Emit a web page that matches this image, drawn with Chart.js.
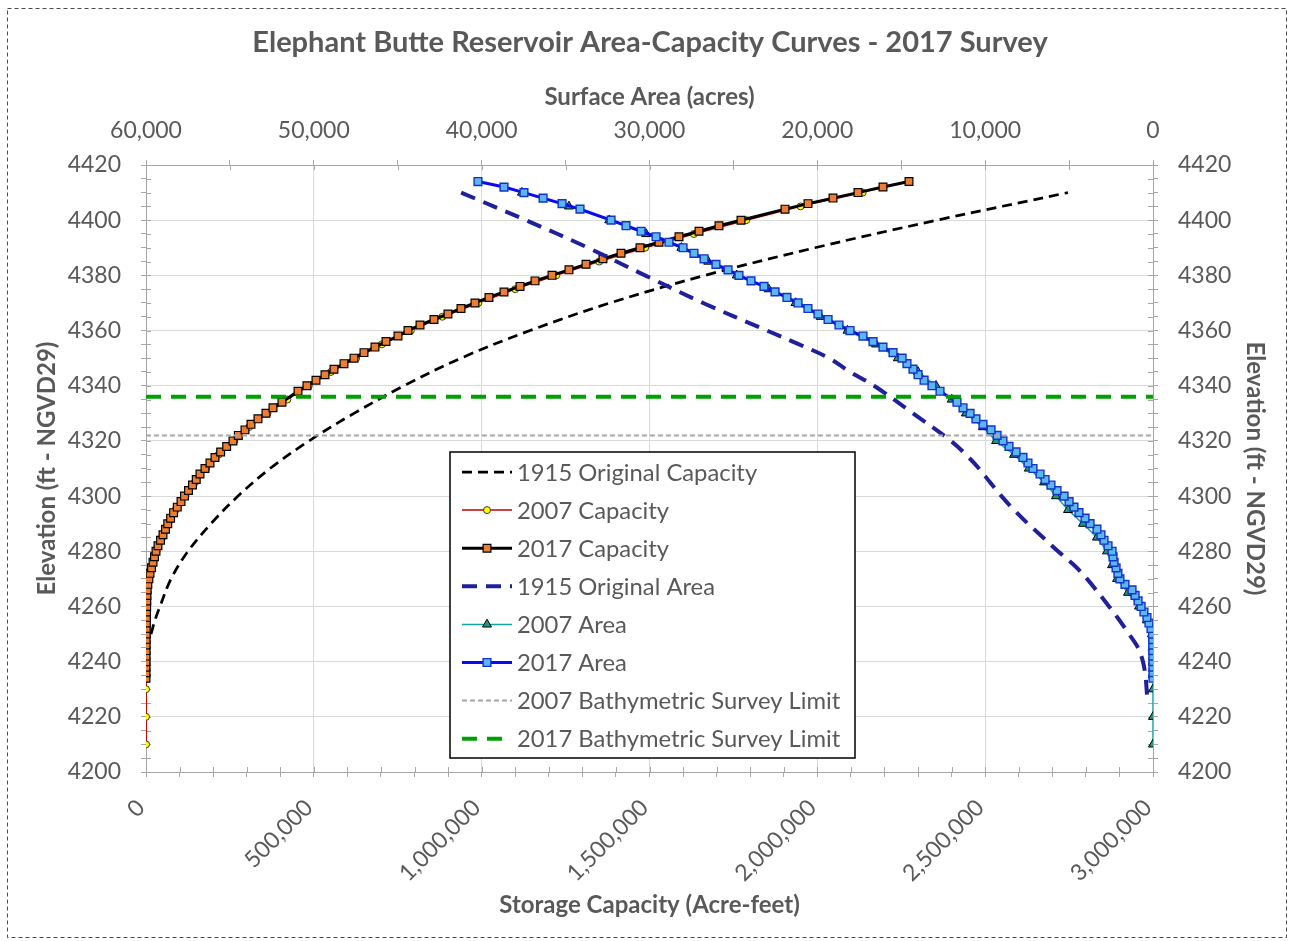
<!DOCTYPE html>
<html>
<head>
<meta charset="utf-8">
<title>Elephant Butte Reservoir Area-Capacity Curves - 2017 Survey</title>
<script src="https://cdn.jsdelivr.net/npm/chart.js@4.4.1/dist/chart.umd.min.js"></script>
<style>
  html, body { margin: 0; padding: 0; background: #ffffff; }
  #wrap { position: absolute; left: 0; top: 0; width: 1291px; height: 941px; }
</style>
</head>
<body>
<div id="wrap"><canvas id="chart" width="1291" height="941"></canvas></div>
<script>
// ---- 2017 survey table (elevation ft NGVD29, capacity acre-feet, area acres) ----
const elev2017 = [4234,4236,4238,4240,4242,4244,4246,4248,4250,4252,4254,4256,4258,4260,4262,4264,4266,4268,4270,4272,
  4274,4276,4278,4280,4282,4284,4286,4288,4290,4292,4294,4296,4298,4300,4302,4304,4306,4308,4310,4312,
  4314,4316,4318,4320,4322,4324,4326,4328,4330,4332,4334,
  4338,4340,4342,4344,4346,4348,4350,4352,4354,4356,4358,4360,4362,4364,4366,4368,4370,4372,4374,4376,
  4378,4380,4382,4384,4386,4388,4390,4392,4394,4396,4398,4400,
  4404,4406,4408,4410,4412,4414];
const capacity2017 = [0,20,60,120,200,300,420,560,720,900,1100,1330,1600,1900,2300,2800,3600,5500,8600,11900,
  16400,20900,25300,29800,35700,43200,50600,58100,64800,73300,82200,93200,104300,114700,126600,138500,149700,160800,175700,190600,
  205500,222400,240300,259100,275000,294900,312700,333600,357400,378300,405100,
  452800,479600,506400,533200,560000,589800,619600,649400,682200,715000,750700,780500,816300,857900,899600,938400,980100,1021800,1066500,1114200,
  1158900,1209500,1260100,1310800,1361400,1415100,1471700,1528300,1587900,1647500,1707000,1772600,
  1903700,1972200,2046700,2121100,2195600,2273100];
const area2017 = [0,2,3,5,8,10,15,20,30,120,240,360,540,710,890,1070,1250,1670,1970,2090,
  2200,2320,2380,2440,2680,2920,3100,3340,3750,4050,4410,4710,5000,5300,5720,6080,6430,6730,7150,7450,
  7750,8160,8580,8940,9290,9650,10130,10550,10900,11320,11680,
  12690,13170,13640,14000,14300,14660,14950,15490,16090,16680,17280,18050,18710,19360,19960,20560,21150,21810,22520,23180,
  23950,24670,25320,26040,26750,27350,28000,28840,29610,30500,31400,32290,
  34140,35210,36340,37480,38670,40220];

// ---- 2007 survey table ----
const elev2007 = [4210,4220,4230,4235,4240,4245,4250,4255,4260,4265,4270,4275,4280,4285,4290,4295,4300,4305,4310,4315,
  4320,4325,4330,4335,4340,4345,4350,4355,4360,4365,4370,4375,4380,4385,4390,4395,4400,4405,4410];
const capacity2007 = [0,0,0,10,130,380,760,1250,2100,3600,9000,19500,31000,48000,66000,88000,117500,146000,179000,216000,
  263000,307000,362000,421000,485000,551000,626000,703000,789000,883000,990000,1100000,1222000,1350000,1487000,1632000,1788000,1950000,2135000];
const area2007 = [0,0,0,5,10,20,60,360,830,1490,2140,2440,2740,3340,4170,5060,5780,6490,7400,8280,
  9350,10130,11150,11990,12930,14000,15200,16500,18200,19800,21300,22900,24800,26500,28100,30200,32400,34800,37600];

// ---- 1915 original curves ----
const elev1915Capacity = [4250,4255,4260,4270,4280,4290,4300,4310,4320,4330,4340,4350,4360,4370,4380,4390,4400,4410];
const capacity1915 = [14900,26800,41700,74500,125100,193600,274100,369400,485600,619600,768600,938400,1143900,1382300,1665300,1992900,2356400,2746600];
const elev1915Area = [4228,4230,4235,4240,4245,4250,4255,4260,4270,4275,4280,4285,4290,4295,4300,4305,4310,4315,4320,4330,
  4340,4345,4350,4355,4360,4370,4380,4390,4400,4410];
const area1915 = [360,380,450,600,890,1430,2000,2620,3930,4710,5660,6550,7450,8280,9030,9710,10370,11140,12040,14300,
  16620,18050,19300,21090,23000,26810,30270,33660,37360,41230];

// ---- bathymetric survey limits (ft) ----
const surveyLimit2007 = 4322;
const surveyLimit2017 = 4336;

// ---- axis ranges and tick spacing ----
const capacityRange = [0, 3000000];
const areaRange = [0, 60000];
const elevationRange = [4200, 4420];
const capacityMajor = 500000, capacityMinor = 100000;
const areaMajor = 10000, areaMinor = 5000;
const elevationMajor = 20, elevationMinor = 5;

const FONT = 'Lato, "Open Sans", "Liberation Sans", sans-serif';
const TEXT = '#595959';
const GRID = '#d9d9d9';
const AXIS = '#a6a6a6';

const toPoints = (xs, ys) => xs.map((x, i) => ({ x: x, y: ys[i] }));
const fmt = v => Number(v).toLocaleString('en-US');
const clear = 'rgba(0,0,0,0)';

const datasets = [
  { label: '1915 Original Capacity', data: toPoints(capacity1915, elev1915Capacity), xAxisID: 'x',
    borderColor: '#000000', borderWidth: 2.75, borderDash: [10, 6], pointRadius: 0, tension: 0.35 },
  { label: '2007 Capacity', data: toPoints(capacity2007, elev2007), xAxisID: 'x',
    borderColor: '#c00000', borderWidth: 1.5, pointStyle: 'circle', pointRadius: 3.5,
    pointBackgroundColor: '#ffff00', pointBorderColor: '#3a3a3a', pointBorderWidth: 1, tension: 0 },
  { label: '2017 Capacity', data: toPoints(capacity2017, elev2017), xAxisID: 'x',
    borderColor: '#000000', borderWidth: 3, pointStyle: 'rect', pointRadius: 5.5,
    pointBackgroundColor: '#ed7d31', pointBorderColor: '#000000', pointBorderWidth: 1.2, tension: 0 },
  { label: '1915 Original Area', data: toPoints(area1915, elev1915Area), xAxisID: 'x2',
    borderColor: '#20209c', borderWidth: 4, borderDash: [15, 9], pointRadius: 0, tension: 0.35 },
  { label: '2007 Area', data: toPoints(area2007, elev2007), xAxisID: 'x2',
    borderColor: '#16a2a2', borderWidth: 1.5, pointStyle: 'triangle', pointRadius: 5.2,
    pointBackgroundColor: '#1c9a80', pointBorderColor: '#000000', pointBorderWidth: 1, tension: 0 },
  { label: '2017 Area', data: toPoints(area2017, elev2017), xAxisID: 'x2',
    borderColor: '#0a0af0', borderWidth: 3, pointStyle: 'rect', pointRadius: 5.5,
    pointBackgroundColor: '#5cb6f2', pointBorderColor: '#1233c8', pointBorderWidth: 1.4, tension: 0 },
  { label: '2007 Bathymetric Survey Limit', data: toPoints(capacityRange, [surveyLimit2007, surveyLimit2007]), xAxisID: 'x',
    borderColor: '#a6a6a6', borderWidth: 2, borderDash: [5, 3], pointRadius: 0 },
  { label: '2017 Bathymetric Survey Limit', data: toPoints(capacityRange, [surveyLimit2017, surveyLimit2017]), xAxisID: 'x',
    borderColor: '#00a000', borderWidth: 4, borderDash: [15, 10], pointRadius: 0 }
];
// later series sit on top of earlier ones
datasets.forEach((d, i) => { d.order = datasets.length - i; d.showLine = true; d.yAxisID = 'y'; d.fill = false; });

// dashed outline around the whole figure, and the main heading
const frame = {
  id: 'frame',
  beforeDraw(chart) {
    const ctx = chart.ctx;
    ctx.save();
    ctx.fillStyle = '#ffffff';
    ctx.fillRect(0, 0, chart.width, chart.height);
    ctx.strokeStyle = '#4a4a4a';
    ctx.lineWidth = 1;
    ctx.setLineDash([4, 3]);
    ctx.strokeRect(7.5, 8.5, 1279, 929);
    ctx.restore();
  },
  afterDraw(chart) {
    const ctx = chart.ctx;
    ctx.save();
    ctx.fillStyle = TEXT;
    ctx.font = 'bold 29px ' + FONT;
    ctx.textAlign = 'center';
    ctx.textBaseline = 'middle';
    ctx.fillText('Elephant Butte Reservoir Area-Capacity Curves - 2017 Survey', 650, 43);
    ctx.restore();
  }
};

// tick marks that cross the axis lines (inner half)
const innerTicks = {
  id: 'innerTicks',
  beforeDatasetsDraw(chart) {
    const ctx = chart.ctx, a = chart.chartArea, L = 5;
    ctx.save();
    ctx.strokeStyle = AXIS;
    ctx.lineWidth = 1;
    ctx.beginPath();
    ['x', 'x2', 'y', 'y2'].forEach(id => {
      const s = chart.scales[id];
      s.ticks.forEach((t, i) => {
        const p = Math.round(s.getPixelForTick(i)) + 0.5;
        if (id === 'x') { ctx.moveTo(p, a.bottom); ctx.lineTo(p, a.bottom - L); }
        if (id === 'x2') { ctx.moveTo(p, a.top); ctx.lineTo(p, a.top + L); }
        if (id === 'y') { ctx.moveTo(a.left, p); ctx.lineTo(a.left + L, p); }
        if (id === 'y2') { ctx.moveTo(a.right, p); ctx.lineTo(a.right - L, p); }
      });
    });
    ctx.stroke();
    ctx.restore();
  }
};

// boxed legend inside the plot
const boxLegend = {
  id: 'boxLegend',
  afterDatasetsDraw(chart) {
    const ctx = chart.ctx;
    const x0 = 450, y0 = 452, w = 405, h = 306, rowH = 38.1;
    ctx.save();
    ctx.fillStyle = '#ffffff';
    ctx.fillRect(x0, y0, w, h);
    ctx.strokeStyle = '#000000';
    ctx.lineWidth = 1.5;
    ctx.setLineDash([]);
    ctx.strokeRect(x0, y0, w, h);
    chart.data.datasets.forEach((d, i) => {
      const yy = y0 + 20 + i * rowH;
      ctx.save();
      ctx.strokeStyle = d.borderColor;
      ctx.lineWidth = d.borderWidth;
      ctx.setLineDash(d.borderDash || []);
      ctx.beginPath();
      ctx.moveTo(x0 + 12, yy);
      ctx.lineTo(x0 + 62, yy);
      ctx.stroke();
      ctx.setLineDash([]);
      if (d.pointRadius > 0) {
        ctx.fillStyle = d.pointBackgroundColor;
        ctx.strokeStyle = d.pointBorderColor;
        ctx.lineWidth = d.pointBorderWidth;
        Chart.helpers.drawPoint(ctx, { pointStyle: d.pointStyle, radius: d.pointRadius,
          borderWidth: d.pointBorderWidth, rotation: 0 }, x0 + 37, yy);
      }
      ctx.restore();
      ctx.fillStyle = TEXT;
      ctx.font = '23.8px ' + FONT;
      ctx.textAlign = 'left';
      ctx.textBaseline = 'middle';
      ctx.fillText(d.label, x0 + 67, yy + 1);
    });
    ctx.restore();
  }
};

const tickFont = { family: FONT, size: 23 };
const titleFont = { family: FONT, size: 24, weight: 'bold' };
const onMajor = (v, step) => Math.abs(v / step - Math.round(v / step)) < 1e-9;

function draw() {
  new Chart(document.getElementById('chart'), {
    type: 'scatter',
    data: { datasets: datasets },
    plugins: [frame, innerTicks, boxLegend],
    options: {
      responsive: false,
      animation: false,
      events: [],
      layout: { padding: 0 },
      plugins: { legend: { display: false }, tooltip: { enabled: false }, title: { display: false } },
      scales: {
        x: {
          type: 'linear', position: 'bottom', min: capacityRange[0], max: capacityRange[1],
          ticks: { stepSize: capacityMinor, autoSkip: false, minRotation: 45, maxRotation: 45,
            labelOffset: -5, padding: 17, color: TEXT, font: tickFont,
            callback: v => onMajor(v, capacityMajor) ? fmt(v) : '' },
          grid: { color: c => (c.tick && onMajor(c.tick.value, capacityMajor)) ? GRID : clear,
            tickColor: AXIS, tickLength: 5, lineWidth: 1 },
          border: { display: true, color: AXIS, width: 1 },
          title: { display: true, text: 'Storage Capacity (Acre-feet)', color: TEXT, font: titleFont,
            padding: { top: 0, bottom: 21 } },
          afterFit: s => { s.height = 169; }
        },
        x2: {
          type: 'linear', position: 'top', reverse: true, min: areaRange[0], max: areaRange[1],
          ticks: { stepSize: areaMinor, autoSkip: false, minRotation: 0, maxRotation: 0,
            padding: 16, color: TEXT, font: tickFont,
            callback: v => onMajor(v, areaMajor) ? fmt(v) : '' },
          grid: { drawOnChartArea: false, tickColor: AXIS, tickLength: 5 },
          border: { display: true, color: AXIS, width: 1 },
          title: { display: true, text: 'Surface Area (acres)', color: TEXT, font: titleFont,
            padding: { top: 83, bottom: 0 } },
          afterFit: s => { s.height = 165; }
        },
        y: {
          type: 'linear', position: 'left', min: elevationRange[0], max: elevationRange[1],
          ticks: { stepSize: elevationMinor, autoSkip: false, padding: 20, color: TEXT, font: tickFont,
            callback: v => onMajor(v, elevationMajor) ? String(v) : '' },
          grid: { color: c => (c.tick && onMajor(c.tick.value, elevationMajor)) ? GRID : clear,
            tickColor: AXIS, tickLength: 5, lineWidth: 1 },
          border: { display: true, color: AXIS, width: 1 },
          title: { display: true, text: 'Elevation (ft - NGVD29)', color: TEXT, font: titleFont,
            padding: { top: 33, bottom: 0 } },
          afterFit: s => { s.width = 146; }
        },
        y2: {
          type: 'linear', position: 'right', min: elevationRange[0], max: elevationRange[1],
          ticks: { stepSize: elevationMinor, autoSkip: false, padding: 20, color: TEXT, font: tickFont,
            callback: v => onMajor(v, elevationMajor) ? String(v) : '' },
          grid: { drawOnChartArea: false, tickColor: AXIS, tickLength: 5 },
          border: { display: true, color: AXIS, width: 1 },
          title: { display: true, text: 'Elevation (ft - NGVD29)', color: TEXT, font: titleFont,
            padding: { top: 22, bottom: 0 } },
          afterFit: s => { s.width = 138; }
        }
      }
    }
  });
}

if (document.fonts && document.fonts.load) {
  Promise.all([
    document.fonts.load('23px Lato'),
    document.fonts.load('bold 23px Lato')
  ]).then(draw, draw);
} else {
  draw();
}
</script>
</body>
</html>
